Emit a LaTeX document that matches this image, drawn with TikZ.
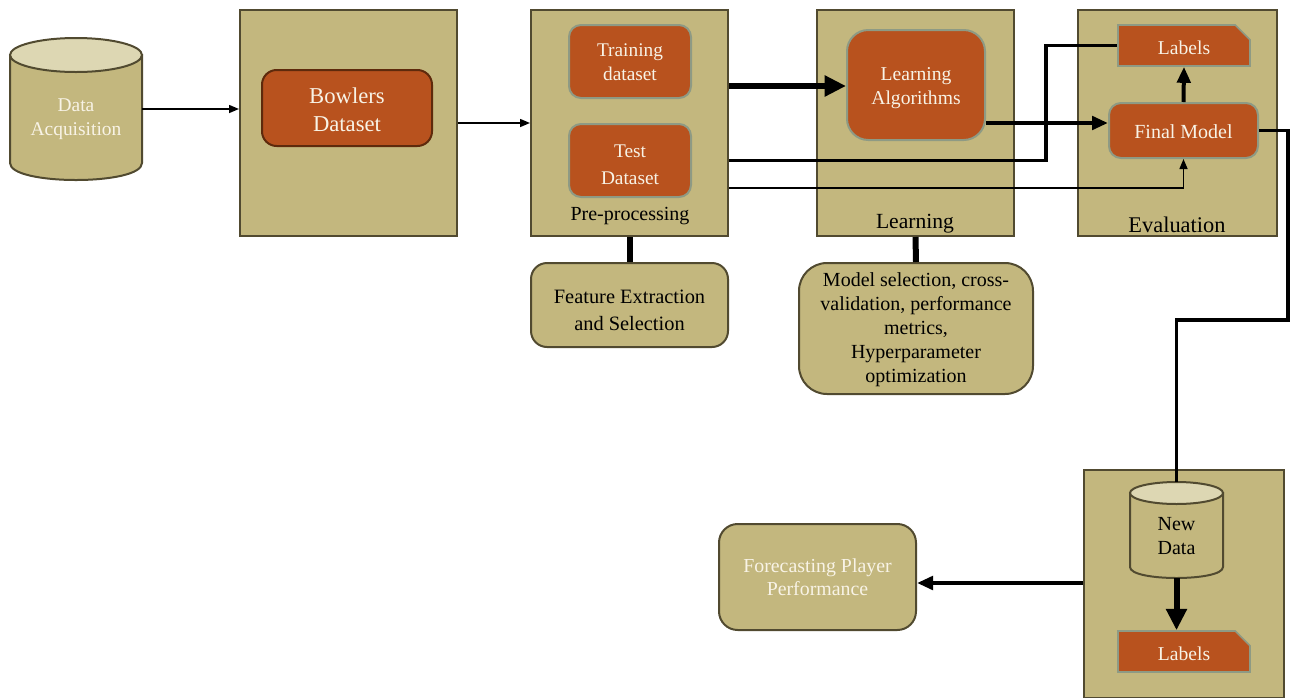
\documentclass[tikz,border=0pt]{standalone}
\usepackage{fontspec}
\setmainfont{Liberation Serif}
\usetikzlibrary{arrows.meta,shapes.misc,calc}
\definecolor{tan}{HTML}{C3B77E}
\definecolor{tanb}{HTML}{514A30}
\definecolor{tantop}{HTML}{DDD7B3}
\definecolor{orng}{HTML}{B8521E}
\definecolor{glow}{HTML}{8E9A84}
\definecolor{bowlb}{HTML}{5E2A0C}
\definecolor{cream}{HTML}{F8F3E6}
\begin{document}
\begin{tikzpicture}[x=0.75pt,y=-0.75pt,
  sz/.style 2 args={minimum width=#1*0.75pt,minimum height=#2*0.75pt},
  stage/.style={draw=tanb,fill=tan,line width=1.5pt,inner sep=0pt},
  obox/.style={fill=orng,draw=glow,line width=1.5pt,rounded corners=9pt,inner sep=0pt},
  tbox/.style={fill=tan,draw=tanb,line width=1.5pt,inner sep=0pt},
  lbl/.style={chamfered rectangle,chamfered rectangle corners=north east,chamfered rectangle xsep=5.5pt,chamfered rectangle ysep=5.5pt,fill=orng,draw=glow,line width=1.2pt,inner sep=0pt,text=cream,font=\fontsize{14.7}{18}\selectfont,text height=13pt,text depth=0pt},
  wtxt/.style={text=cream,align=center,inner sep=0pt},
  dtxt/.style={text=black,align=center,inner sep=0pt},
  cylb/.style={fill=tan,draw=tanb,line width=1.5pt},
  cylt/.style={fill=tantop,draw=tanb,line width=1.5pt},
  thinarrow/.style={line width=1.1pt,-{Triangle[length=7.5pt,width=6pt]}},
  medarrow/.style={line width=3pt,-{Triangle[length=12pt,width=10pt]}},
  bigarrow/.style={line width=4.5pt,-{Triangle[length=16pt,width=15pt]}},
  medline/.style={line width=2.7pt},
  conn/.style={line width=4.5pt}]
\useasboundingbox (0,0) rectangle (1290,697);

% Data acquisition cylinder
\node[sz={132}{142},inner sep=0pt] (acq) at (76,109) {};
\path[cylb] (10,55) -- (10,163) .. controls (10,185.67) and (142,185.67) .. (142,163) -- (142,55) -- cycle;
\path[cylt] (76,55) ellipse [x radius=66,y radius=17];
\node[wtxt,font=\fontsize{14.6}{18}\selectfont] (acqt) at (76,119) {Data\\Acquisition};

% stage boxes
\node[stage,sz={217}{226}] (box1) at (348.5,123) {};
\node[stage,sz={197}{226}] (box2) at (629.5,123) {};
\node[stage,sz={197}{226}] (box3) at (915.5,123) {};
\node[stage,sz={199}{226}] (box4) at (1177.5,123) {};
\node[stage,sz={200}{228}] (box5) at (1184,584) {};

\node[dtxt,font=\fontsize{15}{18}\selectfont] (pre) at (630,216) {Pre-processing};
\node[dtxt,font=\fontsize{16.2}{18}\selectfont] (learn) at (915,224) {Learning};
\node[dtxt,font=\fontsize{16.8}{18}\selectfont] (eval) at (1177,224.5) {Evaluation};

% inner boxes
\node[obox,draw=bowlb,rounded corners=11pt,sz={170}{76}] (bowl) at (347,108) {};
\node[wtxt,font=\fontsize{17}{21}\selectfont] (bowlt) at (347,110) {Bowlers\\Dataset};
\node[obox,sz={122}{73}] (train) at (630,61.5) {};
\node[wtxt,font=\fontsize{14.5}{18}\selectfont] (traint) at (630,62.5) {Training\\dataset};
\node[obox,sz={122}{73}] (test) at (630,160.5) {};
\node[wtxt,font=\fontsize{14.5}{20}\selectfont] (testt) at (630,165) {Test\\Dataset};
\node[obox,rounded corners=16pt,sz={138}{110}] (alg) at (916,85) {};
\node[wtxt,font=\fontsize{14.7}{18}\selectfont] (algt) at (916,88) {Learning\\Algorithms};
\node[lbl,sz={132}{41}] (labels) at (1184,45.5) {Labels};
\node[obox,sz={149}{55}] (final) at (1183.5,130.5) {};
\node[wtxt,font=\fontsize{15}{18}\selectfont] (finalt) at (1183.5,131.5) {Final Model};

% lower boxes
\node[tbox,rounded corners=12pt,sz={197}{84}] (feat) at (629.5,305) {};
\node[dtxt,font=\fontsize{15.3}{20.3}\selectfont] (featt) at (629.5,310) {Feature Extraction\\and Selection};
\node[tbox,rounded corners=21pt,sz={234}{131}] (model) at (916,328.5) {};
\node[dtxt,font=\fontsize{15}{18}\selectfont] (modelt) at (916,329.5) {Model selection, cross-\\validation, performance\\metrics,\\Hyperparameter\\optimization};
\node[tbox,rounded corners=14pt,sz={197}{106}] (forecast) at (817.5,577) {};
\node[wtxt,font=\fontsize{14.9}{17.5}\selectfont] (forecastt) at (817.5,577.5) {Forecasting Player\\Performance};

% New data cylinder
\node[sz={93}{96},inner sep=0pt] (nd) at (1176.5,530) {};
\path[cylb] (1130,493) -- (1130,567) .. controls (1130,581.67) and (1223,581.67) .. (1223,567) -- (1223,493) -- cycle;
\path[cylt] (1176.5,493) ellipse [x radius=46.5,y radius=11];
\node[dtxt,font=\fontsize{15}{18}\selectfont] (ndt) at (1176.5,536) {New\\Data};
\node[lbl,sz={132}{41}] (labels2) at (1184,651.5) {Labels};

% helper coordinates
\coordinate (y86) at (0,86);
\coordinate (y123) at (0,123);
\coordinate (y188) at (0,188);
\coordinate (y320) at (0,320);
\coordinate (y583) at (0,583);
\coordinate (j1) at (1046,0);
\coordinate (xr) at (1288,0);

% connectors
\draw[thinarrow] (acq.east) -- (acq.east -| box1.west);
\draw[thinarrow] (box1.east) -- (box1.east -| box2.west);
\draw[bigarrow] (box2.east |- y86) -- (alg.west |- y86);
\draw[medarrow] (alg.east |- y123) -- (final.west |- y123);
\draw[medline] (test.east -| box2.east) -| (j1 |- labels.west) -- (labels.west);
\draw[thinarrow] (box2.east |- y188) -| (final.south);
\draw[medarrow] (final.north) -- (labels.south);
\draw[medline] (final.east) -- (xr |- final.east) -- (xr |- y320) -| (nd.north);
\draw[conn] (box2.south) -- (feat.north);
\draw[conn] (box3.south) -- (model.north);
\draw[bigarrow] (nd.south) -- (nd.south |- labels2.north);
\draw[medarrow] (box5.west |- y583) -- (forecast.east |- y583);
\end{tikzpicture}
\end{document}
